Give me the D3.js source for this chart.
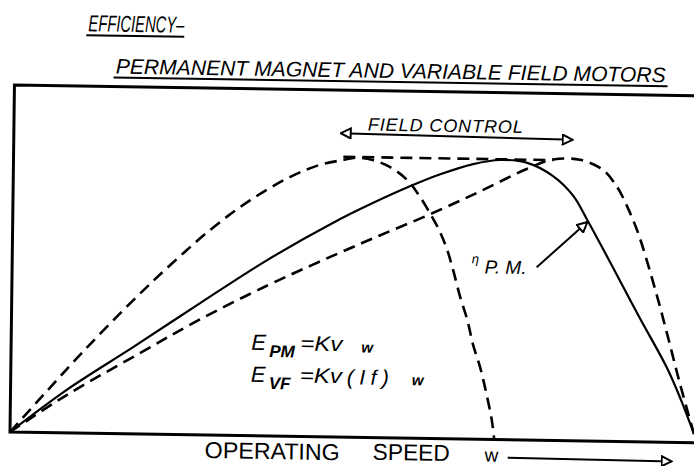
<!DOCTYPE html>
<html>
<head>
<meta charset="utf-8">
<script src="https://cdn.jsdelivr.net/npm/d3@7"></script>
<style>
  body { margin: 0; background: #fff; }
  text { font-family: "Liberation Sans", Arial, sans-serif; fill: #000; }
  .hand { font-style: italic; }
</style>
</head>
<body>
<div id="chart"></div>
<script>
// speed (% of max) and efficiency (% of frame height)

// permanent magnet motor (solid)
const pmSpeed = [0, 8.2, 17.8, 27.5, 37.2, 46.7, 52.5, 57.9, 62.3, 67.1, 71.0, 75.0, 78.8, 81.8, 83.9, 87.8, 91.8, 95.9, 97.9, 100];
const pmEff   = [0, 12.4, 25.0, 38.0, 50.7, 61.7, 67.6, 72.6, 76.2, 79.3, 80.6, 79.9, 76.2, 70.6, 63.7, 50.0, 35.7, 21.4, 12.8, 2.5];

// variable field, full field (dashed, early peak)
const vfLowSpeed = [0, 4.7, 10.5, 17.7, 23.4, 29.2, 34.6, 40.4, 44.7, 48.1, 50.0, 52.4, 54.9, 57.5, 59.4, 61.2, 62.4, 63.5, 64.4, 65.5, 66.6, 67.5, 68.6, 69.6, 70.4, 70.8];
const vfLowEff   = [0, 10.6, 23.5, 38.5, 49.5, 59.8, 67.9, 74.8, 78.4, 79.9, 80.6, 80.0, 78.1, 74.4, 69.6, 63.9, 59.6, 54.4, 48.7, 40.9, 34.3, 27.2, 20.6, 12.8, 5.6, 0];

// variable field, weakened field (dashed, late peak)
const vfHighSpeed = [0, 8.2, 18.8, 27.5, 37.2, 43.9, 49.3, 53.6, 61.3, 68.2, 75.0, 78.8, 82.7, 86.1, 88.2, 89.1, 91.2, 93.7, 95.8, 97.8, 100];
const vfHighEff   = [0, 10.9, 23.3, 33.3, 43.3, 49.6, 54.5, 58.3, 65.0, 71.5, 78.2, 81.0, 81.0, 78.2, 73.3, 70.2, 61.0, 45.9, 31.5, 17.1, 2.5];

// field control envelope across the top
const envSpeed = [48.1, 78.8];
const envEff   = [80.8, 80.8];

const W = 694, H = 466;

const svg = d3.select("#chart").append("svg")
    .attr("width", W)
    .attr("height", H)
    .style("background", "#fff");

// marker: open arrow head like the hand drawn ones
const defs = svg.append("defs");
defs.append("marker")
    .attr("id", "head")
    .attr("viewBox", "0 0 12 12")
    .attr("refX", 11).attr("refY", 6)
    .attr("markerWidth", 12).attr("markerHeight", 12)
    .attr("markerUnits", "userSpaceOnUse")
    .attr("orient", "auto-start-reverse")
    .append("path")
    .attr("d", "M1,1 L11,6 L1,11 Z")
    .attr("fill", "#fff")
    .attr("stroke", "#000")
    .attr("stroke-width", 2);

// the scanned page sits a little crooked
const page = svg.append("g").attr("transform", "rotate(0.9,10,432)");

const x = d3.scaleLinear().domain([0, 100]).range([10, 694]);
const y = d3.scaleLinear().domain([0, 100]).range([432, 85]);

// frame
page.append("path")
    .attr("d", `M${W + 10},${y(100)} L9,${y(100)} L10,${y(0)} L${W + 10},${y(0)}`)
    .attr("fill", "none")
    .attr("stroke", "#000")
    .attr("stroke-width", 3);

const line = d3.line()
    .x(d => x(d[0]))
    .y(d => y(d[1]))
    .curve(d3.curveCatmullRom.alpha(0.5));

const series = [
    { name: "vfLow", sp: vfLowSpeed, ef: vfLowEff, dash: "12,7" },
    { name: "vfHigh", sp: vfHighSpeed, ef: vfHighEff, dash: "12,7" },
    { name: "envelope", sp: envSpeed, ef: envEff, dash: "12,7" },
    { name: "pm", sp: pmSpeed, ef: pmEff, dash: null }
];

page.selectAll(".curve")
    .data(series)
    .enter()
    .append("path")
    .attr("class", "curve")
    .attr("d", d => line(d.sp.map((s, i) => [s, d.ef[i]])))
    .attr("fill", "none")
    .attr("stroke", "#000")
    .attr("stroke-width", d => d.dash ? 2.6 : 2.2)
    .attr("stroke-dasharray", d => d.dash);

// titles
page.append("text")
    .attr("class", "hand")
    .attr("x", 82).attr("y", 30)
    .attr("textLength", 96)
    .attr("lengthAdjust", "spacingAndGlyphs")
    .style("font-size", "23px")
    .text("EFFICIENCY\u2013");
page.append("line")
    .attr("x1", 80).attr("x2", 178)
    .attr("y1", 34).attr("y2", 34)
    .attr("stroke", "#000").attr("stroke-width", 2);

page.append("text")
    .attr("class", "hand")
    .attr("x", 110).attr("y", 72)
    .attr("textLength", 550)
    .attr("lengthAdjust", "spacingAndGlyphs")
    .style("font-size", "21px")
    .text("PERMANENT MAGNET AND VARIABLE FIELD MOTORS");
page.append("line")
    .attr("x1", 108).attr("x2", 662)
    .attr("y1", 76).attr("y2", 76)
    .attr("stroke", "#000").attr("stroke-width", 2);

// field control span
page.append("text")
    .attr("class", "hand")
    .attr("x", 363).attr("y", 125)
    .attr("textLength", 155)
    .style("font-size", "18px")
    .text("FIELD CONTROL");
page.append("line")
    .attr("x1", 336).attr("y1", 128)
    .attr("x2", 568).attr("y2", 131)
    .attr("stroke", "#000").attr("stroke-width", 2)
    .attr("marker-start", "url(#head)")
    .attr("marker-end", "url(#head)");

// eta P.M. label and pointer
page.append("text")
    .attr("class", "hand")
    .attr("x", 469).attr("y", 256)
    .style("font-size", "13px")
    .text("\u03b7");
page.append("text")
    .attr("class", "hand")
    .attr("x", 482).attr("y", 266)
    .style("font-size", "19px")
    .text("P. M.");
page.append("line")
    .attr("x1", 534).attr("y1", 259)
    .attr("x2", 584).attr("y2", 213)
    .attr("stroke", "#000").attr("stroke-width", 2)
    .attr("marker-end", "url(#head)");

// back emf equations
const eqs = [
    { sub: "PM", field: "", tailX: 360, y: 346 },
    { sub: "VF", field: "(If)", tailX: 411, y: 378 }
];
eqs.forEach(q => {
    page.append("text").attr("class", "hand")
        .attr("x", 250).attr("y", q.y)
        .style("font-size", "22px").text("E");
    page.append("text").attr("class", "hand")
        .attr("x", 268).attr("y", q.y + 7)
        .style("font-size", "17px").style("font-weight", "bold").text(q.sub);
    page.append("text").attr("class", "hand")
        .attr("x", 299).attr("y", q.y)
        .attr("textLength", 42)
        .attr("lengthAdjust", "spacingAndGlyphs")
        .style("font-size", "21px").text("=Kv");
    if (q.field) {
        page.append("text").attr("class", "hand")
            .attr("x", 346).attr("y", q.y + 1)
            .attr("textLength", 42)
            .style("font-size", "21px").text(q.field);
    }
    page.append("text").attr("class", "hand")
        .attr("x", q.tailX).attr("y", q.y + 1)
        .style("font-size", "15px").style("font-weight", "bold").text("w");
});

// x axis caption
page.append("text")
    .attr("x", 205).attr("y", 455)
    .attr("textLength", 135)
    .attr("lengthAdjust", "spacingAndGlyphs")
    .style("font-size", "23px")
    .text("OPERATING");
page.append("text")
    .attr("x", 373).attr("y", 454)
    .attr("textLength", 77)
    .attr("lengthAdjust", "spacingAndGlyphs")
    .style("font-size", "23px")
    .text("SPEED");
page.append("text")
    .attr("x", 485).attr("y", 454)
    .style("font-size", "19px")
    .text("w");
page.append("line")
    .attr("x1", 508).attr("y1", 450)
    .attr("x2", 672).attr("y2", 451)
    .attr("stroke", "#000").attr("stroke-width", 2)
    .attr("marker-end", "url(#head)");
</script>
</body>
</html>
